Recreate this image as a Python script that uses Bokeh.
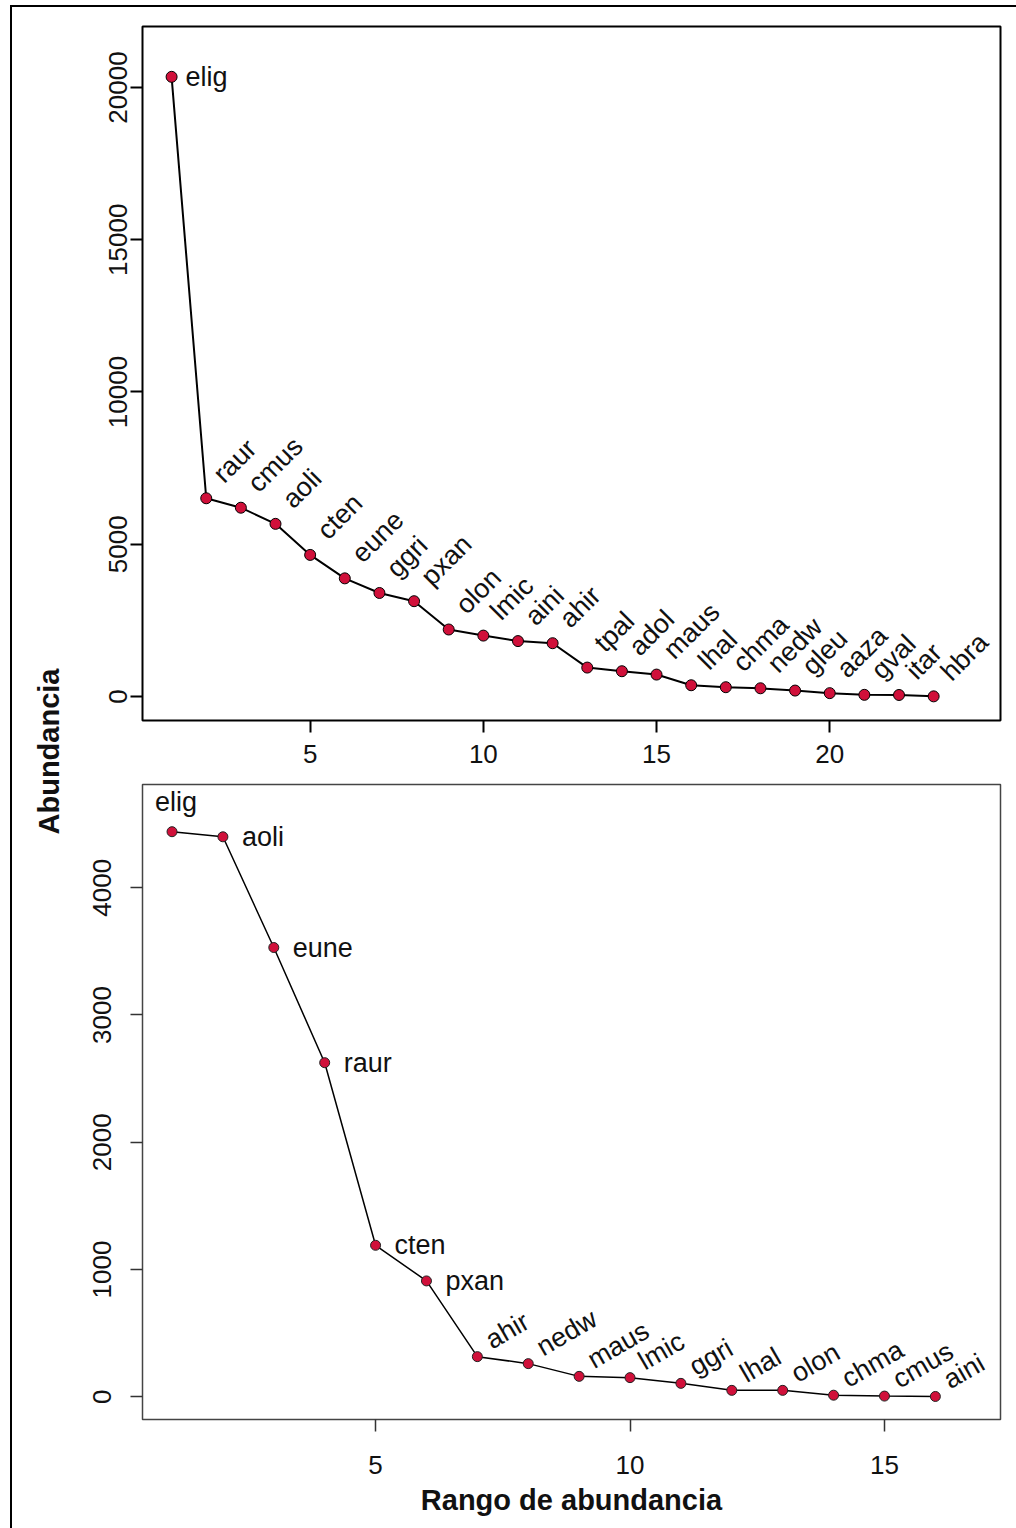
import math
from bokeh.plotting import figure
from bokeh.models import ColumnDataSource, LabelSet, Label, FixedTicker, Range1d, Spacer
from bokeh.layouts import row, column
from bokeh.core.properties import value
from bokeh.embed import file_html
from bokeh.resources import INLINE

# ---------------- data ----------------
top_species = ["elig", "raur", "cmus", "aoli", "cten", "eune", "ggri", "pxan",
               "olon", "lmic", "aini", "ahir", "tpal", "adol", "maus", "lhal",
               "chma", "nedw", "gleu", "aaza", "gval", "itar", "hbra"]
top_abund = [20350, 6510, 6200, 5670, 4650, 3880, 3400, 3130,
             2200, 2000, 1820, 1750, 950, 830, 720, 370,
             305, 270, 195, 110, 55, 50, 5]
top_rank = list(range(1, len(top_species) + 1))
top_xticks = [5, 10, 15, 20]
top_yticks = [0, 5000, 10000, 15000, 20000]

bot_species = ["elig", "aoli", "eune", "raur", "cten", "pxan", "ahir", "nedw",
               "maus", "lmic", "ggri", "lhal", "olon", "chma", "cmus", "aini"]
bot_abund = [4440, 4400, 3530, 2625, 1190, 910, 315, 260,
             160, 150, 105, 50, 50, 12, 5, 2]
bot_rank = list(range(1, len(bot_species) + 1))
bot_xticks = [5, 10, 15]
bot_yticks = [0, 1000, 2000, 3000, 4000]

y_title = "Abundancia"
x_title = "Rango de abundancia"

FONT = "Liberation Sans"
PT_FILL = "#d0103a"
TXT = "#111111"


def base_fig(w, h, xr, yr, mb):
    p = figure(width=w, height=h, x_range=Range1d(*xr), y_range=Range1d(*yr),
               output_backend="svg", toolbar_location=None,
               min_border_left=mb[0], min_border_right=mb[1],
               min_border_top=mb[2], min_border_bottom=mb[3])
    p.grid.visible = False
    p.background_fill_color = "white"
    p.border_fill_color = "white"
    return p


def style_axes(p, xticks, yticks, xstand, ystand, tick_w, tick_col):
    for ax, ticks in ((p.xaxis, xticks), (p.yaxis, yticks)):
        ax.ticker = FixedTicker(ticks=ticks, minor_ticks=[])
        ax.axis_line_color = None
        ax.major_tick_in = 0
        ax.major_tick_out = 12
        ax.major_tick_line_width = tick_w
        ax.major_tick_line_color = tick_col
        ax.minor_tick_line_color = None
        ax.major_label_text_font = FONT
        ax.major_label_text_font_size = "26px"
        ax.major_label_text_color = TXT
    p.xaxis.major_label_standoff = xstand
    p.yaxis.major_label_standoff = ystand
    p.yaxis.major_label_orientation = "parallel"


def labels(p, xs, ys, ts, **kw):
    src = ColumnDataSource(dict(x=xs, y=ys, t=ts))
    p.add_layout(LabelSet(x="x", y="y", text="t", source=src,
                          text_font=value(FONT), text_font_size="27px",
                          text_color=TXT, **kw))


# ---------------- top panel ----------------
p1 = base_fig(936, 763, (0.16, 24.93), (-788, 22003), (62, 14, 19, 50))
p1.outline_line_color = "black"
p1.outline_line_width = 2
style_axes(p1, top_xticks, top_yticks, 12, 3, 2, "black")

p1.line(top_rank, top_abund, line_color="black", line_width=2)
p1.scatter(top_rank, top_abund, size=11, fill_color=PT_FILL,
           line_color="black", line_width=1)

labels(p1, top_rank[:1], top_abund[:1], top_species[:1], x_offset=14, y_offset=0,
       text_align="left", text_baseline="middle")
labels(p1, top_rank[1:], top_abund[1:], top_species[1:], x_offset=18, y_offset=14,
       angle=math.pi / 4, text_align="left", text_baseline="alphabetic")

# ---------------- bottom panel ----------------
p2 = base_fig(936, 758, (0.42, 17.28), (-179, 4811), (62, 16, 14, 109))
p2.outline_line_color = "#444444"
p2.outline_line_width = 1.5
style_axes(p2, bot_xticks, bot_yticks, 24, 19, 1.5, "#333333")
p2.xaxis.axis_label = x_title
p2.xaxis.axis_label_standoff = 7
p2.xaxis.axis_label_text_font = FONT
p2.xaxis.axis_label_text_font_size = "29px"
p2.xaxis.axis_label_text_font_style = "bold"
p2.xaxis.axis_label_text_color = TXT

p2.line(bot_rank, bot_abund, line_color="black", line_width=1.5)
p2.scatter(bot_rank, bot_abund, size=10, fill_color=PT_FILL,
           line_color="#222222", line_width=1)

labels(p2, bot_rank[:1], bot_abund[:1], bot_species[:1], x_offset=4, y_offset=15,
       text_align="center", text_baseline="bottom")
labels(p2, bot_rank[1:6], bot_abund[1:6], bot_species[1:6], x_offset=19, y_offset=0,
       text_align="left", text_baseline="middle")
labels(p2, bot_rank[6:], bot_abund[6:], bot_species[6:], x_offset=15, y_offset=7,
       angle=math.pi / 6, text_align="left", text_baseline="alphabetic")

# ---------------- shared y title strip ----------------
s = figure(width=68, height=1521, x_range=Range1d(0, 68), y_range=Range1d(0, 1521),
           output_backend="svg", toolbar_location=None,
           x_axis_type=None, y_axis_type=None,
           min_border_left=0, min_border_right=0, min_border_top=0, min_border_bottom=0)
s.grid.visible = False
s.outline_line_color = None
s.add_layout(Label(x=36.5, y=777, text=y_title, angle=math.pi / 2,
                   text_align="center", text_baseline="middle",
                   text_font=FONT, text_font_size="29px", text_font_style="bold",
                   text_color=TXT))

# ---------------- outer frame (top and left rules) ----------------
BLACK = {"background-color": "black"}
top_rule = row(Spacer(width=10, height=2), Spacer(width=1006, height=2, styles=BLACK))
body = row(Spacer(width=10, height=1521), Spacer(width=2, height=1521, styles=BLACK),
           s, column(p1, p2))
layout = column(Spacer(width=1016, height=5), top_rule, body)

open("out.html", "w").write(file_html(layout, INLINE))
